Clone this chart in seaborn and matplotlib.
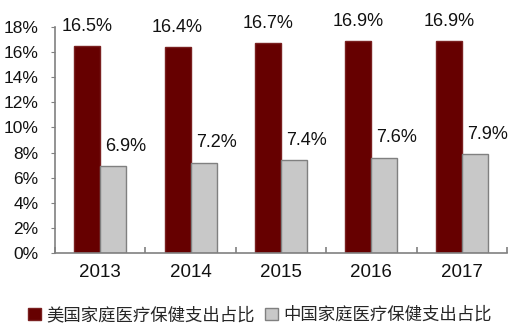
import matplotlib
matplotlib.use("Agg")
import matplotlib.pyplot as plt
import seaborn as sns
import pandas as pd
from matplotlib.ticker import FixedLocator, PercentFormatter
from matplotlib.patches import Patch

years = ["2013", "2014", "2015", "2016", "2017"]
us_share = [16.5, 16.4, 16.7, 16.9, 16.9]
cn_share = [6.9, 7.2, 7.4, 7.6, 7.9]
series_names = ["美国家庭医疗保健支出占比", "中国家庭医疗保健支出占比"]
colors = ["#660000", "#C8C8C8"]
edges = ["#7a2020", "#808080"]

df = pd.DataFrame({
    "year": years * 2,
    "value": us_share + cn_share,
    "series": [series_names[0]] * len(years) + [series_names[1]] * len(years),
})

sns.set_style("white")
plt.rcParams["font.family"] = ["Liberation Sans", "DejaVu Sans"]

fig = plt.figure(figsize=(5.2, 3.35), dpi=100)
ax = fig.add_axes([55 / 520, 1 - 253 / 335, 452 / 520, 226 / 335])

sns.barplot(data=df, x="year", y="value", hue="series", palette=colors,
            width=0.575, gap=0, dodge=True, ax=ax, legend=False, saturation=1)

for cont, ec, dx in zip(ax.containers, edges, [0, 9]):
    for bar in cont:
        bar.set_edgecolor(ec)
        bar.set_linewidth(1.0)
    ax.bar_label(cont, labels=[f"{v.get_height():.1f}%" for v in cont],
                 padding=8, fontsize=13, color="#111111")
    for t in ax.texts[-len(cont):]:
        if dx:
            t.xyann = (dx, t.xyann[1])

ax.set_ylim(0, 18)
ax.set_xlim(-0.5, len(years) - 0.5)
ax.yaxis.set_major_locator(FixedLocator(range(0, 19, 2)))
ax.yaxis.set_major_formatter(PercentFormatter(decimals=0))
ax.set_xlabel("")
ax.set_ylabel("")

for s in ["top", "right"]:
    ax.spines[s].set_visible(False)
for s in ["left", "bottom"]:
    ax.spines[s].set_color("#808080")
    ax.spines[s].set_linewidth(1.2)

ax.tick_params(axis="y", which="major", direction="out", length=3, color="#808080",
               labelsize=12.5, pad=9, left=True)
ax.tick_params(axis="x", which="major", length=0, labelsize=13.5, pad=8)
ax.xaxis.set_minor_locator(FixedLocator([i + 0.5 for i in range(-1, len(years))]))
ax.tick_params(axis="x", which="minor", direction="in", length=4, color="#808080",
               width=1.2, bottom=True)
for lbl in ax.get_xticklabels() + ax.get_yticklabels():
    lbl.set_color("#111111")

handles = [Patch(facecolor=c, edgecolor=e, linewidth=1) for c, e in zip(colors, edges)]
fig.legend(handles, series_names, loc="center", bbox_to_anchor=(0.5, 1 - 315 / 335),
           ncol=2, frameon=False, handlelength=0.75, handleheight=0.75,
           handletextpad=0.3, columnspacing=0.6,
           prop={"family": ["Noto Sans CJK SC", "DejaVu Sans"], "size": 12.5})

fig.savefig("out.png", dpi=100)
